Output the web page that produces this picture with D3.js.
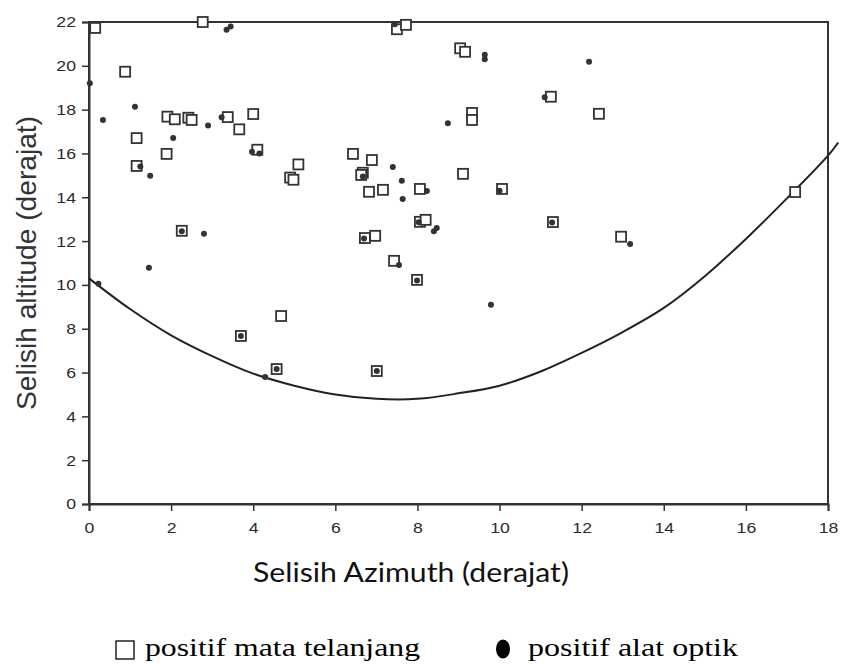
<!DOCTYPE html>
<html>
<head>
<meta charset="utf-8">
<script src="https://cdn.jsdelivr.net/npm/d3@7"></script>
<style>
  body { margin: 0; background: #fff; }
  svg { display: block; }
</style>
</head>
<body>
<svg id="chart" width="845" height="664"></svg>
<script>
// positif mata telanjang (open squares)
const nakedEye = [
    [0.15, 21.73], [2.77, 22.0], [0.88, 19.73], [1.16, 16.7], [1.16, 15.43],
    [1.89, 15.98], [1.91, 17.68], [2.09, 17.56], [2.42, 17.63], [2.5, 17.53],
    [3.38, 17.66], [3.66, 17.1], [4.0, 17.8], [4.1, 16.17], [4.9, 14.9],
    [4.98, 14.8], [5.1, 15.5], [2.26, 12.47], [4.68, 8.58], [3.7, 7.67],
    [4.57, 6.16], [7.5, 21.67], [7.72, 21.87], [9.04, 20.8], [9.16, 20.64],
    [11.25, 18.59], [9.33, 17.85], [9.33, 17.53], [6.43, 15.98], [6.89, 15.7],
    [6.67, 15.12], [6.63, 15.02], [6.82, 14.25], [7.16, 14.34], [8.06, 14.38],
    [9.11, 15.07], [10.06, 14.38], [11.3, 12.87], [8.06, 12.88], [8.2, 12.97],
    [6.72, 12.14], [6.97, 12.24], [7.43, 11.1], [7.99, 10.23], [7.01, 6.07],
    [12.96, 12.2], [12.42, 17.81], [17.2, 14.24]
];

// positif alat optik (small dots)
const optical = [
    [3.35, 21.65], [3.45, 21.8], [0.02, 19.2], [0.34, 17.53], [1.12, 18.13],
    [1.49, 14.98], [2.05, 16.7], [2.9, 17.28], [3.23, 17.65], [3.97, 16.08],
    [4.15, 16.0], [2.8, 12.33], [1.46, 10.78], [0.23, 10.05], [4.29, 5.8],
    [7.45, 21.9], [9.64, 20.3], [9.64, 20.5], [11.1, 18.57], [8.74, 17.38],
    [6.67, 14.95], [7.4, 15.38], [7.62, 14.75], [7.64, 13.92], [8.23, 14.29],
    [8.47, 12.6], [8.4, 12.45], [7.55, 10.91], [9.79, 9.09], [12.18, 20.18],
    [13.18, 11.87], [1.25, 15.4],
    [2.26, 12.45], [3.7, 7.67], [4.57, 6.16], [10.0, 14.3], [11.28, 12.85],
    [8.03, 12.86], [6.7, 12.12], [7.99, 10.2], [7.01, 6.07]
];

// batas curve
const limitCurve = [
    [0, 10.3], [1, 8.9], [2, 7.7], [3, 6.75], [4, 5.95], [5, 5.4], [6, 5.0],
    [7, 4.8], [8, 4.8], [9, 5.05], [10, 5.4], [11, 6.05], [12, 6.9], [13, 7.85],
    [14, 8.95], [15, 10.4], [16, 12.1], [17, 13.95], [18, 15.9], [18.25, 16.5]
];

const xTicks = [0, 2, 4, 6, 8, 10, 12, 14, 16, 18];
const yTicks = [0, 2, 4, 6, 8, 10, 12, 14, 16, 18, 20, 22];

const xTitle = "Selisih Azimuth (derajat)";
const yTitle = "Selisih altitude (derajat)";
const legendLabels = ["positif mata telanjang", "positif alat optik"];

const margin = { left: 89, top: 22, right: 17, bottom: 160 };
const width = 845 - margin.left - margin.right;
const height = 664 - margin.top - margin.bottom;
const axisColor = "#333";
const stretch = 1.14;

const svg = d3.select("#chart");
const g = svg.append("g").attr("transform", `translate(${margin.left},${margin.top})`);

const x = d3.scaleLinear().domain([0, 18]).range([0, width]);
const y = d3.scaleLinear().domain([0, 22]).range([height, 0]);

// widen text horizontally like the source image
function widen(sel, factor) {
    sel.each(function () {
        const w = this.getComputedTextLength();
        this.setAttribute("textLength", w * factor);
        this.setAttribute("lengthAdjust", "spacingAndGlyphs");
    });
}

// frame
g.append("rect")
    .attr("width", width)
    .attr("height", height)
    .attr("fill", "none")
    .attr("stroke", axisColor)
    .attr("stroke-width", 2);

const xAxis = g.append("g")
    .attr("transform", `translate(0,${height})`)
    .call(d3.axisBottom(x).tickValues(xTicks).tickSize(7).tickPadding(11).tickFormat(d3.format("d")));

const yAxis = g.append("g")
    .call(d3.axisLeft(y).tickValues(yTicks).tickSize(7).tickPadding(6).tickFormat(d3.format("d")));

[xAxis, yAxis].forEach(ax => {
    ax.select(".domain").attr("stroke", axisColor).attr("stroke-width", 2);
    ax.selectAll(".tick line").attr("stroke", axisColor).attr("stroke-width", 1.5);
    ax.selectAll(".tick text")
        .attr("fill", "#2a2a2a")
        .attr("font-family", "'Liberation Sans', Arial, sans-serif")
        .attr("font-size", 15.5)
        .call(widen, stretch);
});

// curve
const line = d3.line()
    .x(d => x(d[0]))
    .y(d => y(d[1]))
    .curve(d3.curveCatmullRom);

g.append("path")
    .datum(limitCurve)
    .attr("fill", "none")
    .attr("stroke", "#222")
    .attr("stroke-width", 2)
    .attr("d", line);

// squares
const sq = 10;
g.append("g").selectAll("rect")
    .data(nakedEye)
    .join("rect")
    .attr("x", d => x(d[0]) - sq / 2)
    .attr("y", d => y(d[1]) - sq / 2)
    .attr("width", sq)
    .attr("height", sq)
    .attr("fill", "#fff")
    .attr("stroke", "#333")
    .attr("stroke-width", 1.8);

// dots
g.append("g").selectAll("circle")
    .data(optical)
    .join("circle")
    .attr("cx", d => x(d[0]))
    .attr("cy", d => y(d[1]))
    .attr("r", 3)
    .attr("fill", "#333");

// axis titles
svg.append("text")
    .attr("x", 253)
    .attr("y", 582)
    .attr("font-family", "Lato, 'Open Sans', sans-serif")
    .attr("font-size", 26)
    .attr("fill", "#111")
    .attr("textLength", 316)
    .attr("lengthAdjust", "spacingAndGlyphs")
    .text(xTitle);

svg.append("text")
    .attr("transform", `translate(36,${margin.top + height / 2}) scale(${stretch},1) rotate(-90)`)
    .attr("text-anchor", "middle")
    .attr("font-family", "'Liberation Sans', Arial, sans-serif")
    .attr("font-size", 24)
    .attr("fill", "#333")
    .attr("textLength", 294)
    .attr("lengthAdjust", "spacingAndGlyphs")
    .text(yTitle);

// legend
const legend = svg.append("g")
    .attr("font-family", "'Liberation Serif', 'Times New Roman', serif")
    .attr("font-size", 26)
    .attr("fill", "#000");

legend.append("rect")
    .attr("x", 116).attr("y", 641)
    .attr("width", 18).attr("height", 18)
    .attr("fill", "none")
    .attr("stroke", "#000")
    .attr("stroke-width", 1.3);

legend.append("text")
    .attr("x", 145).attr("y", 656)
    .attr("textLength", 275)
    .attr("lengthAdjust", "spacingAndGlyphs")
    .text(legendLabels[0]);

legend.append("ellipse")
    .attr("cx", 503).attr("cy", 649)
    .attr("rx", 7).attr("ry", 9.5)
    .attr("fill", "#000");

legend.append("text")
    .attr("x", 528).attr("y", 656)
    .attr("textLength", 210)
    .attr("lengthAdjust", "spacingAndGlyphs")
    .text(legendLabels[1]);
</script>
</body>
</html>
